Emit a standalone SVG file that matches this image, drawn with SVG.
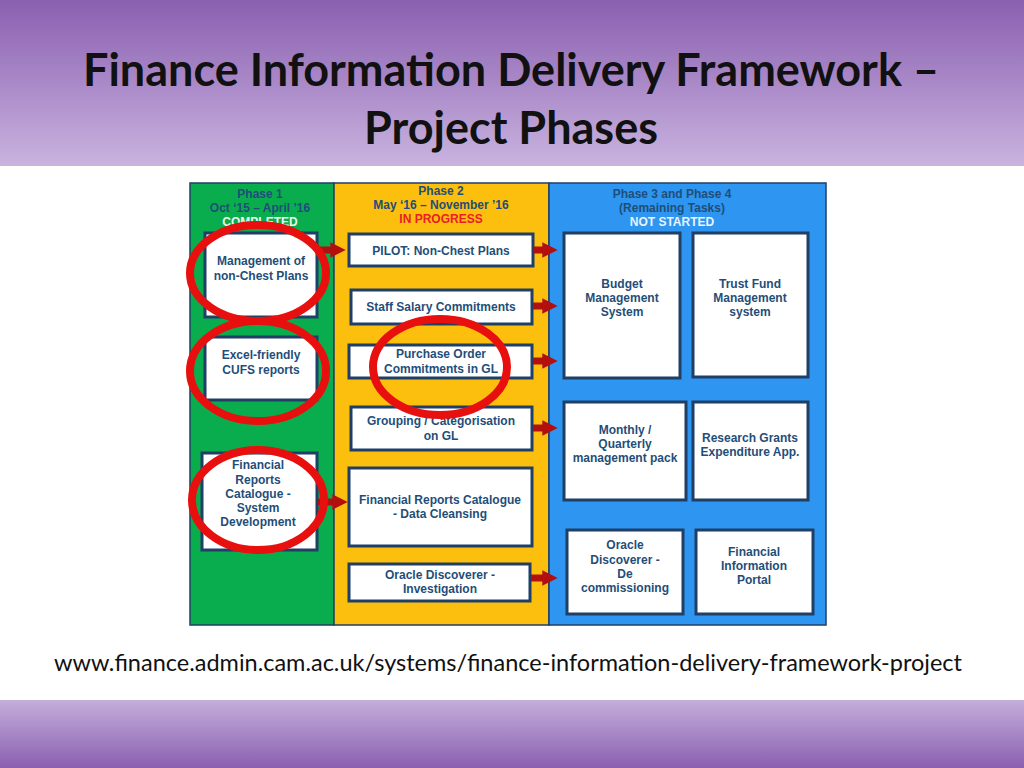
<svg xmlns="http://www.w3.org/2000/svg" width="1024" height="768" viewBox="0 0 1024 768">
<defs>
<linearGradient id="top" x1="0" y1="0" x2="0" y2="1"><stop offset="0" stop-color="#8a5fb0"/><stop offset="1" stop-color="#c9b3df"/></linearGradient>
<linearGradient id="bot" x1="0" y1="0" x2="0" y2="1"><stop offset="0" stop-color="#c4aedb"/><stop offset="1" stop-color="#8a5fb0"/></linearGradient>
<marker id="ah" viewBox="0 0 10 10" refX="5" refY="5" markerWidth="2.2" markerHeight="2.2" orient="auto"><path d="M0,0L10,5L0,10z" fill="#b30f0f"/></marker>
</defs>
<style>
.bx{fill:#fff;stroke:#1f3f66;stroke-width:3}
.t{font-family:"Liberation Sans",Arial,sans-serif;font-size:12px;font-weight:bold;fill:#1f4e79;text-anchor:middle}
.h{font-family:"Liberation Sans",Arial,sans-serif;font-size:12px;font-weight:bold;text-anchor:middle}
.ar{stroke:#b30f0f;stroke-width:7;fill:none;marker-end:url(#ah)}
.ring{fill:none;stroke:#e80f0f;stroke-width:8}
</style>
<rect width="1024" height="768" fill="#fff"/>
<rect width="1024" height="166" fill="url(#top)"/>
<rect y="700" width="1024" height="68" fill="url(#bot)"/>
<text x="511" y="86" font-family="Lato,'Liberation Sans',sans-serif" font-size="45" font-weight="bold" text-anchor="middle" fill="#111">Finance Information Delivery Framework –</text>
<text x="511" y="144" font-family="Lato,'Liberation Sans',sans-serif" font-size="45" font-weight="bold" text-anchor="middle" fill="#111">Project Phases</text>
<g id="panels">
<rect x="190" y="183" width="144" height="442" fill="#0aad4e" stroke="#1f3f66" stroke-width="1.5"/>
<rect x="334" y="183" width="215" height="442" fill="#fdbf0d" stroke="#1f3f66" stroke-width="1.5"/>
<rect x="549" y="183" width="277" height="442" fill="#2e96f0" stroke="#1f3f66" stroke-width="1.5"/>
<text class="h" x="260" y="198" fill="#1f4e79">Phase 1</text>
<text class="h" x="260" y="212" fill="#1f4e79">Oct ‘15 – April ’16</text>
<text class="h" x="260" y="226" fill="#e8f8ee">COMPLETED</text>
<text class="h" x="441" y="195" fill="#1f4e79">Phase 2</text>
<text class="h" x="441" y="209" fill="#1f4e79">May ‘16 – November ’16</text>
<text class="h" x="441" y="223" fill="#e8202a">IN PROGRESS</text>
<text class="h" x="672" y="198" fill="#1f4e79">Phase 3 and Phase 4</text>
<text class="h" x="672" y="212" fill="#1f4e79">(Remaining Tasks)</text>
<text class="h" x="672" y="226" fill="#e8f4ff">NOT STARTED</text>
</g>
<g id="p1a"><rect class="bx" x="205" y="233" width="112" height="84"/><text class="t" x="261" y="265">Management of</text><text class="t" x="261" y="280">non-Chest Plans</text></g>
<g id="p1b"><rect class="bx" x="205" y="337" width="112" height="63"/><text class="t" x="261" y="359">Excel-friendly</text><text class="t" x="261" y="374">CUFS  reports</text></g>
<g id="p1c"><rect class="bx" x="202" y="453" width="115" height="97"/><text class="t" x="258" y="469">Financial</text><text class="t" x="258" y="484">Reports</text><text class="t" x="258" y="498">Catalogue -</text><text class="t" x="258" y="512">System</text><text class="t" x="258" y="526">Development</text></g>
<g id="p2a"><rect class="bx" x="349" y="234" width="184" height="32"/><text class="t" x="441" y="255">PILOT: Non-Chest Plans</text></g>
<g id="p2b"><rect class="bx" x="351" y="290" width="181" height="34"/><text class="t" x="441" y="311">Staff Salary Commitments</text></g>
<g id="p2c"><rect class="bx" x="349" y="345" width="183" height="33"/><text class="t" x="441" y="358">Purchase Order</text><text class="t" x="441" y="373">Commitments in GL</text></g>
<g id="p2d"><rect class="bx" x="351" y="407" width="181" height="43"/><text class="t" x="441" y="425">Grouping / Categorisation</text><text class="t" x="441" y="440">on GL</text></g>
<g id="p2e"><rect class="bx" x="349" y="468" width="183" height="78"/><text class="t" x="440" y="504">Financial Reports Catalogue</text><text class="t" x="440" y="518">- Data Cleansing</text></g>
<g id="p2f"><rect class="bx" x="349" y="564" width="181" height="37"/><text class="t" x="440" y="579">Oracle Discoverer -</text><text class="t" x="440" y="593">Investigation</text></g>
<g id="p3a"><rect class="bx" x="564" y="233" width="116" height="145"/><text class="t" x="622" y="288">Budget</text><text class="t" x="622" y="302">Management</text><text class="t" x="622" y="316">System</text></g>
<g id="p3b"><rect class="bx" x="693" y="233" width="115" height="144"/><text class="t" x="750" y="288">Trust Fund</text><text class="t" x="750" y="302">Management</text><text class="t" x="750" y="316">system</text></g>
<g id="p3c"><rect class="bx" x="564" y="402" width="122" height="98"/><text class="t" x="625" y="434">Monthly /</text><text class="t" x="625" y="448">Quarterly</text><text class="t" x="625" y="462">management pack</text></g>
<g id="p3d"><rect class="bx" x="693" y="402" width="115" height="98"/><text class="t" x="750" y="442">Research Grants</text><text class="t" x="750" y="456">Expenditure App.</text></g>
<g id="p3e"><rect class="bx" x="567" y="530" width="116" height="84"/><text class="t" x="625" y="549">Oracle</text><text class="t" x="625" y="564">Discoverer -</text><text class="t" x="625" y="578">De</text><text class="t" x="625" y="592">commissioning</text></g>
<g id="p3f"><rect class="bx" x="696" y="530" width="117" height="84"/><text class="t" x="754" y="556">Financial</text><text class="t" x="754" y="570">Information</text><text class="t" x="754" y="584">Portal</text></g>
<g id="connectors">
<line class="ar" x1="318" y1="250" x2="338" y2="250"/>
<line class="ar" x1="318" y1="502" x2="340" y2="502"/>
<line class="ar" x1="534" y1="250" x2="550" y2="250"/>
<line class="ar" x1="533" y1="306" x2="550" y2="306"/>
<line class="ar" x1="533" y1="361" x2="550" y2="361"/>
<line class="ar" x1="533" y1="428" x2="550" y2="428"/>
<line class="ar" x1="531" y1="578" x2="550" y2="578"/>
</g>
<g id="rings">
<ellipse class="ring" cx="258" cy="273" rx="68" ry="48"/>
<ellipse class="ring" cx="258" cy="371" rx="68" ry="50"/>
<ellipse class="ring" cx="258" cy="500" rx="66" ry="50"/>
<ellipse class="ring" cx="440" cy="367" rx="67" ry="48"/>
</g>
<text x="508" y="671" font-family="Lato,'Liberation Sans',sans-serif" font-size="23.5" text-anchor="middle" fill="#111">www.finance.admin.cam.ac.uk/systems/finance-information-delivery-framework-project</text>
</svg>
